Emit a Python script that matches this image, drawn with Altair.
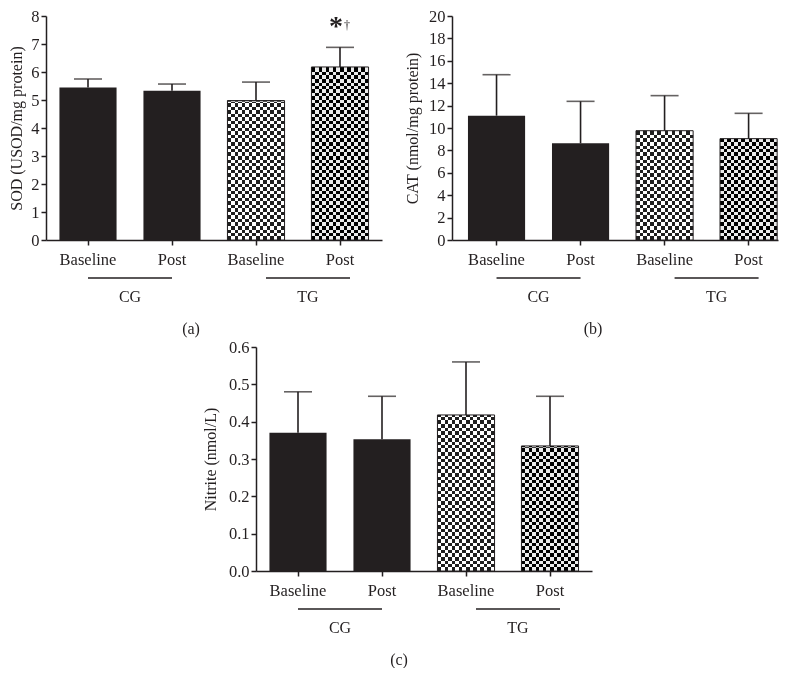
import altair as alt
import pandas as pd

# ---------------- data ----------------
groups = ["CG", "CG", "TG", "TG"]
times = ["Baseline", "Post", "Baseline", "Post"]

sod_mean = [5.45, 5.33, 4.98, 6.18]
sod_sd = [0.30, 0.24, 0.66, 0.70]
sod_sig = ["", "", "", "*"]
sod_sig2 = ["", "", "", "\u2020"]

cat_mean = [11.10, 8.63, 9.76, 9.05]
cat_sd = [3.66, 3.75, 3.13, 2.26]

nitrite_mean = [0.370, 0.353, 0.418, 0.335]
nitrite_sd = [0.110, 0.115, 0.142, 0.133]

sod_ticks = [0, 1, 2, 3, 4, 5, 6, 7, 8]
cat_ticks = [0, 2, 4, 6, 8, 10, 12, 14, 16, 18, 20]
nitrite_ticks = [0.0, 0.1, 0.2, 0.3, 0.4, 0.5, 0.6]

group_names = ["CG", "TG"]
panel_letters = ["(a)", "(b)", "(c)"]

# ---------------- styling ----------------
FONT = "Liberation Serif"
INK = "#231f20"
LFS = 16.5   # tick label size
TFS = 16     # title / group text size


def stripes(n, c1, c2):
    stops = []
    for k in range(n):
        c = c1 if k % 2 == 0 else c2
        stops.append({"offset": k / n, "color": c})
        stops.append({"offset": (k + 1) / n, "color": c})
    return stops


HGRAD = {"gradient": "linear", "x1": 0, "y1": 0, "x2": 0, "y2": 1,
         "stops": stripes(64, "black", "white")}
VGRAD = {"gradient": "linear", "x1": 0, "y1": 0, "x2": 1, "y2": 0,
         "stops": stripes(16, "white", "black")}


def panel(mean, sd, ytitle, ticks, fmt, letter, width, letter_x,
          pad_outer=0.16, align=0.5, sig=None, sig2=None, title_pad=8):
    conds = [f"{g} {t}" for g, t in zip(groups, times)]
    df = pd.DataFrame({
        "cond": conds, "group": groups, "time": times,
        "mean": mean, "top": [m + s for m, s in zip(mean, sd)],
        "sig": sig if sig else [""] * 4,
        "sig2": sig2 if sig2 else [""] * 4,
    })
    gdf = pd.DataFrame({
        "group": group_names,
        "start": [f"{g} Baseline" for g in group_names],
        "end": [f"{g} Post" for g in group_names],
    })
    ldf = pd.DataFrame({"letter": [letter]})
    ymax = ticks[-1]

    xscale = alt.Scale(domain=conds, paddingInner=0.32,
                       paddingOuter=pad_outer, align=align)
    xaxis = alt.Axis(title=None, labelExpr="split(datum.label, ' ')[1]",
                     labelAngle=0, labelFont=FONT, labelFontSize=LFS,
                     labelColor=INK, labelPadding=6, domainColor=INK,
                     domainWidth=1.5, tickColor=INK, tickWidth=1.5,
                     tickSize=5, grid=False)
    yscale = alt.Scale(domain=[0, ymax], nice=False, zero=True)
    yaxis = alt.Axis(title=ytitle, values=ticks, format=fmt, grid=False,
                     labelFont=FONT, labelFontSize=LFS, labelColor=INK,
                     labelPadding=2, domainColor=INK, domainWidth=1.5,
                     tickColor=INK, tickWidth=1.5, tickSize=5,
                     titleFont=FONT, titleFontSize=TFS,
                     titleFontWeight="normal", titleColor=INK,
                     titlePadding=title_pad)

    def X(f):
        return alt.X(f"{f}:N", scale=xscale, axis=xaxis)

    def Y(f):
        return alt.Y(f"{f}:Q", scale=yscale, axis=yaxis)

    base = alt.Chart(df)
    tg = base.transform_filter("datum.group == 'TG'")
    cg = base.transform_filter("datum.group == 'CG'")

    stripes_h = tg.mark_bar(fill=HGRAD).encode(
        x=X("cond"),
        y=alt.Y(datum=ymax, type="quantitative", scale=yscale, axis=yaxis),
        y2=alt.Y2(datum=0))
    mask = tg.mark_bar(fill="white", stroke="white", strokeWidth=2.5).encode(
        x=X("cond"), y=Y("mean"), y2=alt.Y2(datum=ymax))
    checker = tg.mark_bar(fill=VGRAD, blend="difference").encode(
        x=X("cond"), y=Y("mean"))
    lighten = tg.transform_filter("datum.time == 'Baseline'").mark_bar(
        fill="white", opacity=0.12).encode(x=X("cond"), y=Y("mean"))
    darken = tg.transform_filter("datum.time == 'Post'").mark_bar(
        fill="black", opacity=0.08).encode(x=X("cond"), y=Y("mean"))
    outline = tg.mark_bar(fill="white", fillOpacity=0, stroke=INK,
                          strokeWidth=1).encode(x=X("cond"), y=Y("mean"))
    solid = cg.mark_bar(fill=INK).encode(x=X("cond"), y=Y("mean"))

    err = base.mark_rule(color=INK, strokeWidth=1.6).encode(
        x=X("cond"), y=Y("mean"), y2="top")
    cap = base.mark_tick(color=INK, thickness=1.6, size=28).encode(
        x=X("cond"), y=Y("top"))

    layers = [stripes_h, mask, checker, lighten, darken, outline, solid,
              err, cap]

    for g, off in (("CG", 0), ("TG", 10)):
        gsel = alt.Chart(gdf).transform_filter(f"datum.group == '{g}'")
        layers.append(gsel.mark_rule(color=INK, strokeWidth=1.3,
                                     xOffset=off, x2Offset=off).encode(
            x=alt.X("start:N", scale=xscale, axis=xaxis, bandPosition=0.5),
            x2=alt.X2("end", bandPosition=0.5),
            y=alt.value(262)))
        layers.append(gsel.mark_text(font=FONT, fontSize=TFS, color=INK,
                                     dx=42 + off, baseline="middle").encode(
            x=alt.X("start:N", scale=xscale, axis=xaxis, bandPosition=0.5),
            y=alt.value(281), text="group"))

    layers.append(alt.Chart(ldf).mark_text(
        font=FONT, fontSize=TFS, color=INK, baseline="middle").encode(
        x=alt.value(letter_x), y=alt.value(313), text="letter"))

    if sig:
        sg = base.transform_filter("datum.sig != ''")
        layers.append(sg.mark_text(font=FONT, fontSize=28, fontWeight="bold",
                                   color=INK, dx=-4, dy=-20,
                                   baseline="middle").encode(
            x=X("cond"), y=Y("top"), text="sig"))
        layers.append(sg.mark_text(font=FONT, fontSize=12, color=INK,
                                   dx=7, dy=-22, baseline="middle").encode(
            x=X("cond"), y=Y("top"), text="sig2"))

    return alt.layer(*layers).properties(width=width, height=224)


pa = panel(sod_mean, sod_sd, "SOD (USOD/mg protein)", sod_ticks, "d",
           panel_letters[0], 336, 145, sig=sod_sig, sig2=sod_sig2,
           title_pad=6)
pb = panel(cat_mean, cat_sd, "CAT (nmol/mg protein)", cat_ticks, "d",
           panel_letters[1], 326, 141, pad_outer=0.1, align=0.95)
pc = panel(nitrite_mean, nitrite_sd, "Nitrite (nmol/L)", nitrite_ticks, ".1f",
           panel_letters[2], 336, 143, title_pad=10)

# invisible spacer that pushes panel (c) toward the centre of the page
spacer = alt.Chart(pd.DataFrame({"v": [0]})).mark_point(opacity=0).encode(
    x=alt.value(0), y=alt.value(0)).properties(width=146, height=10)

top = alt.hconcat(pa, pb, spacing=22)
bottom = alt.hconcat(spacer, pc, spacing=10)
chart = alt.vconcat(top, bottom, spacing=2).properties(
    padding=0
).configure(font=FONT).configure_view(strokeWidth=0, strokeOpacity=0)

chart.save("out.html", embed_options={"renderer": "svg", "actions": False})
